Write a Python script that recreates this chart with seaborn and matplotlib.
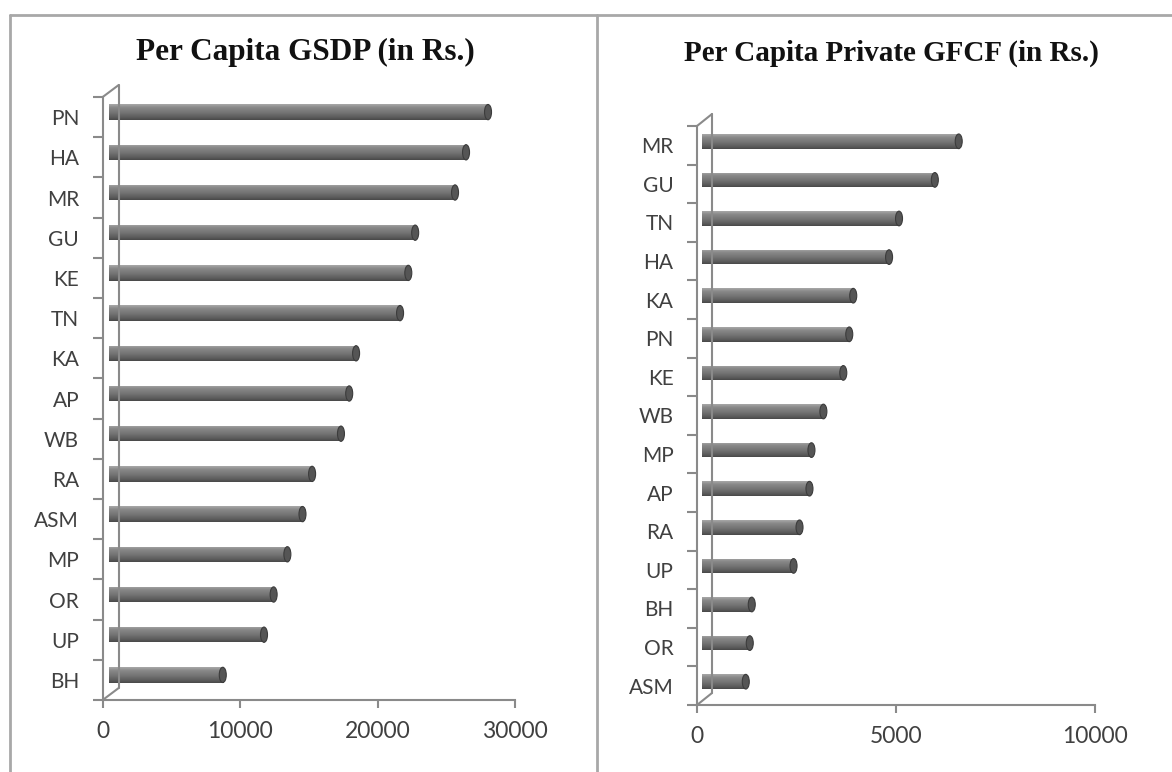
import numpy as np
import pandas as pd
import matplotlib
matplotlib.use('Agg')
import matplotlib.pyplot as plt
import matplotlib.transforms as mtransforms
from matplotlib.colors import LinearSegmentedColormap
from matplotlib.lines import Line2D
from matplotlib.patches import Ellipse
import seaborn as sns

# data
gsdp_states = ['PN', 'HA', 'MR', 'GU', 'KE', 'TN', 'KA', 'AP', 'WB', 'RA', 'ASM', 'MP', 'OR', 'UP', 'BH']
gsdp_values = [27600, 26000, 25200, 22300, 21800, 21200, 18000, 17500, 16900, 14800, 14100, 13000, 12000, 11300, 8300]
gsdp_ticks = [0, 10000, 20000, 30000]

gfcf_states = ['MR', 'GU', 'TN', 'HA', 'KA', 'PN', 'KE', 'WB', 'MP', 'AP', 'RA', 'UP', 'BH', 'OR', 'ASM']
gfcf_values = [6450, 5850, 4950, 4700, 3800, 3700, 3550, 3050, 2750, 2700, 2450, 2300, 1250, 1200, 1100]
gfcf_ticks = [0, 5000, 10000]

sns.set_style('white')
plt.rcParams['font.family'] = ['Lato', 'DejaVu Sans']

W, H = 1172, 772
fig = plt.figure(figsize=(W / 100, H / 100), dpi=100)

axis_grey = '#8a8a8a'
label_col = '#404040'
cyl = LinearSegmentedColormap.from_list(
    'cyl', [(0, '#a8a8a8'), (0.2, '#8a8a8a'), (0.55, '#737373'), (0.85, '#5a5a5a'), (1, '#484848')])
grad = np.linspace(0, 1, 64).reshape(-1, 1)


def px_line(p0, p1, **kw):
    fig.add_artist(Line2D([p0[0], p1[0]], [p0[1], p1[1]],
                          transform=mtransforms.IdentityTransform(), **kw))


def draw_panel(rect, states, values, ticks, bar_shift, depth):
    ax = fig.add_axes(rect)
    df = pd.DataFrame({'state': states, 'value': values})
    sns.barplot(data=df, x='value', y='state', orient='h', color='#777777',
                saturation=1, width=0.38, errorbar=None, ax=ax)
    n = len(states)
    ax.set_xlim(ticks[0], ticks[-1])
    ax.set_ylim(n - 0.5, -0.5)
    ax.set_xticks(ticks)
    ax.set_xticklabels([str(t) for t in ticks])
    ax.set_yticks(np.arange(n + 1) - 0.5)
    ax.set_yticklabels([])
    ax.set_yticks(np.arange(n), labels=states, minor=True)
    ax.set_xlabel('')
    ax.set_ylabel('')
    for s in ['top', 'right']:
        ax.spines[s].set_visible(False)
    for s in ['left', 'bottom']:
        ax.spines[s].set_color(axis_grey)
        ax.spines[s].set_linewidth(1.5)
    ax.tick_params(axis='y', which='major', left=True, direction='out', length=7, width=1.5,
                   color=axis_grey)
    ax.tick_params(axis='y', which='minor', left=True, length=0, pad=17, labelsize=15,
                   labelcolor=label_col)
    ax.tick_params(axis='x', bottom=True, direction='out', length=6, width=1.5, color=axis_grey,
                   pad=9, labelsize=16.5, labelcolor=label_col)

    # bars sit a little back in depth: shift them and shade like cylinders
    shift = mtransforms.ScaledTranslation(bar_shift[0] / 100, bar_shift[1] / 100, fig.dpi_scale_trans)
    bars = list(ax.patches)
    ax_w = ax.get_window_extent().width
    cap_w = 7 * (ticks[-1] - ticks[0]) / ax_w
    for p in bars:
        p.set_transform(ax.transData + shift)
        p.set_edgecolor('none')
        x0, y0 = p.get_x(), p.get_y()
        w, h = p.get_width(), p.get_height()
        im = ax.imshow(grad, extent=(x0, x0 + w, y0 + h, y0), aspect='auto', cmap=cyl,
                       transform=ax.transData + shift, zorder=3, interpolation='bilinear')
        im.set_clip_path(p)
        cap = Ellipse((x0 + w, y0 + h / 2), cap_w, h, facecolor='#555555',
                      edgecolor='#3c3c3c', lw=0.8, transform=ax.transData + shift, zorder=4)
        ax.add_patch(cap)
    ax.set_xlim(ticks[0], ticks[-1])
    ax.set_ylim(n - 0.5, -0.5)

    # back wall edge of the 3d frame
    bl = ax.transAxes.transform((0, 0))
    tl = ax.transAxes.transform((0, 1))
    d = np.array(depth)
    px_line(bl, bl + d, color=axis_grey, lw=1.5)
    px_line(tl, tl + d, color=axis_grey, lw=1.5)
    px_line(bl + d, tl + d, color=axis_grey, lw=1.5)
    return ax


draw_panel([102.7 / W, 1 - 700 / H, (515 - 102.7) / W, 603 / H],
           gsdp_states, gsdp_values, gsdp_ticks, (6, 5), (16, 12))
draw_panel([697 / W, 1 - 705 / H, 398 / W, 579 / H],
           gfcf_states, gfcf_values, gfcf_ticks, (5, 4), (15, 12))

fig.text(305 / W, 1 - 60 / H, 'Per Capita GSDP (in Rs.)', ha='center', va='baseline',
         fontsize=22.5, fontweight='bold', family=['Liberation Serif', 'DejaVu Serif'], color='#111111')
fig.text(891 / W, 1 - 61 / H, 'Per Capita Private GFCF (in Rs.)', ha='center', va='baseline',
         fontsize=21, fontweight='bold', family=['Liberation Serif', 'DejaVu Serif'], color='#111111')

# panel borders
border = '#a8a8a8'
fig.add_artist(Line2D([10 / W, 1], [1 - 15 / H, 1 - 15 / H], transform=fig.transFigure, color=border, lw=2))
fig.add_artist(Line2D([10 / W, 10 / W], [0, 1 - 15 / H], transform=fig.transFigure, color=border, lw=2))
fig.add_artist(Line2D([597 / W, 597 / W], [0, 1 - 15 / H], transform=fig.transFigure, color=border, lw=2))

fig.savefig('out.png', dpi=100)
